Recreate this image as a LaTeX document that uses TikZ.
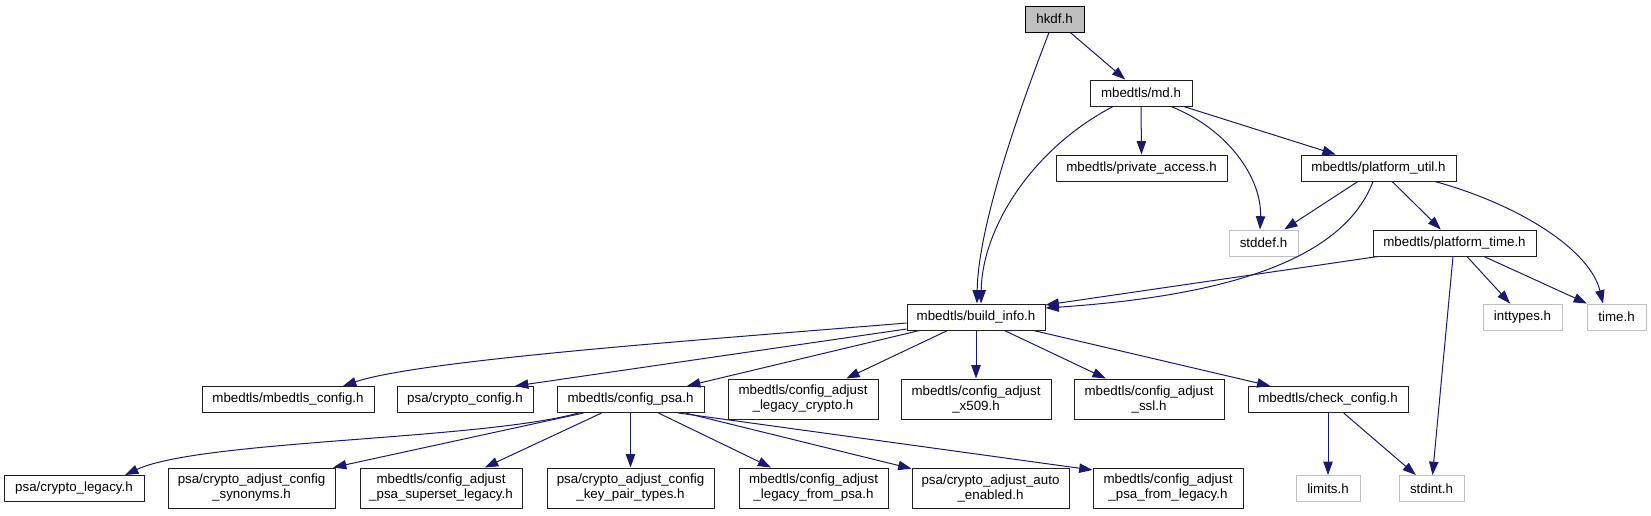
\documentclass[tikz,border=0pt]{standalone}
\usepackage{fontspec}
\setmainfont{Liberation Sans}
\usetikzlibrary{arrows.meta,calc}
\definecolor{bleunuit}{HTML}{191970}
\newcommand{\upx}{0.75pt}

\begin{document}
\begin{tikzpicture}[x=0.75pt, y=-0.75pt,
    fichier/.style={draw=gray!25!black, line width=0.75pt, inner sep=0pt,
        minimum height=26*\upx, align=center,
        font=\fontsize{10}{11.25}\selectfont},
    fichier2/.style={fichier, minimum height=40*\upx},
    externe/.style={fichier, draw=gray!50!white},
    racine/.style={fichier, draw=black, fill=gray!50!white},
    lien/.style={-{Triangle[length=10pt,width=7pt]}, draw=bleunuit, line width=0.75pt}]
            % Cadre
            \useasboundingbox (0,0) rectangle (1651,515);

            % Racine et premiers niveaux
            \node[racine, minimum width=59*\upx] (hkdf) at (1054.5,19) {hkdf.h};
            \node[fichier, minimum width=102*\upx] (md) at (1141,93) {mbedtls/md.h};
            \node[fichier, minimum width=171*\upx] (pa) at (1141.5,168) {mbedtls/private\_access.h};
            \node[fichier, minimum width=155*\upx] (pu) at (1378.5,168) {mbedtls/platform\_util.h};
            \node[externe, minimum width=69*\upx] (sd) at (1263.5,243) {stddef.h};
            \node[fichier, minimum width=163*\upx] (pt) at (1454.5,243) {mbedtls/platform\_time.h};

            % build_info et en-tetes systeme
            \node[fichier, minimum width=138*\upx] (bi) at (976,317) {mbedtls/build\_info.h};
            \node[externe, minimum width=79*\upx] (it) at (1522.5,317) {inttypes.h};
            \node[externe, minimum width=59*\upx] (tm) at (1616.5,317) {time.h};

            % Niveau de configuration
            \node[fichier, minimum width=172*\upx] (mc) at (288,399.5) {mbedtls/mbedtls\_config.h};
            \node[fichier, minimum width=136*\upx] (cc) at (465,399.5) {psa/crypto\_config.h};
            \node[fichier, minimum width=147*\upx] (cp) at (630.5,399.5) {mbedtls/config\_psa.h};
            \node[fichier2, minimum width=150*\upx] (lc) at (803,399) {mbedtls/config\_adjust\\\_legacy\_crypto.h};
            \node[fichier2, minimum width=150*\upx] (xc) at (976,399) {mbedtls/config\_adjust\\\_x509.h};
            \node[fichier2, minimum width=150*\upx] (sc) at (1149,399) {mbedtls/config\_adjust\\\_ssl.h};
            \node[fichier, minimum width=160*\upx] (ck) at (1328,399.5) {mbedtls/check\_config.h};

            % Dernier niveau
            \node[fichier, minimum width=140*\upx] (cl) at (74,488.5) {psa/crypto\_legacy.h};
            \node[fichier2, minimum width=167*\upx] (sy) at (251.5,488) {psa/crypto\_adjust\_config\\\_synonyms.h};
            \node[fichier2, minimum width=162*\upx] (ss) at (441,488) {mbedtls/config\_adjust\\\_psa\_superset\_legacy.h};
            \node[fichier2, minimum width=167*\upx] (kp) at (630.5,488) {psa/crypto\_adjust\_config\\\_key\_pair\_types.h};
            \node[fichier2, minimum width=149*\upx] (lf) at (813.5,488) {mbedtls/config\_adjust\\\_legacy\_from\_psa.h};
            \node[fichier2, minimum width=157*\upx] (ae) at (990.5,488) {psa/crypto\_adjust\_auto\\\_enabled.h};
            \node[fichier2, minimum width=150*\upx] (pf) at (1168,488) {mbedtls/config\_adjust\\\_psa\_from\_legacy.h};
            \node[externe, minimum width=64*\upx] (lm) at (1328,488.5) {limits.h};
            \node[externe, minimum width=65*\upx] (si) at (1431.5,488.5) {stdint.h};

            % Inclusions depuis hkdf.h et md.h
            \draw[lien] (hkdf) -- (md);
            \draw[lien] ($(hkdf.south)+(-5.5,0)$) .. controls (1015,120) and (978,230) .. ($(bi.north)+(1,0)$);
            \draw[lien] (md.south) -- (pa.north);
            \draw[lien] ($(md.south)+(-28,0)$) .. controls (1030,150) and (982,230) .. ($(bi.north)+(5,0)$);
            \draw[lien] ($(md.south)+(30,0)$) .. controls (1230,130) and (1262,180) .. ($(sd.north)+(-3.5,0)$);
            \draw[lien] (md) -- (pu);

            % Inclusions depuis platform_util.h et platform_time.h
            \draw[lien] (pu) -- (sd);
            \draw[lien] ($(pu.south)+(-5.5,0)$) .. controls (1345,255) and (1240,295) .. ($(bi.east)+(0,-9)$);
            \draw[lien] (pu) -- (pt);
            \draw[lien] ($(pu.south)+(56.5,0)$) .. controls (1520,205) and (1590,250) .. ($(tm.north)+(-13.5,0)$);
            \draw[lien] ($(pt.south)+(-76.5,0)$) -- ($(bi.east)+(0,-12)$);
            \draw[lien] ($(pt.south)+(-1.5,0)$) -- ($(si.north)+(1,0)$);
            \draw[lien] (pt) -- (it);
            \draw[lien] (pt) -- (tm);

            % Inclusions depuis build_info.h
            \draw[lien] ($(bi.west)+(0,6)$) .. controls (700,340) and (420,360) .. ($(mc.north)+(55,0)$);
            \draw[lien] ($(bi.west)+(0,12)$) -- ($(cc.north)+(50,0)$);
            \draw[lien] (bi) -- (cp);
            \draw[lien] (bi) -- (lc);
            \draw[lien] (bi) -- (xc);
            \draw[lien] (bi) -- (sc);
            \draw[lien] (bi) -- (ck);

            % Inclusions depuis config_psa.h
            \draw[lien] ($(cp.south)+(-52,0)$) .. controls (480,440) and (200,440) .. ($(cl.north)+(51,0)$);
            \draw[lien] ($(cp.south)+(-47,0)$) -- ($(sy.north)+(81.5,0)$);
            \draw[lien] (cp) -- (ss);
            \draw[lien] (cp) -- (kp);
            \draw[lien] (cp) -- (lf);
            \draw[lien] (cp) -- (ae);
            \draw[lien] ($(cp.south)+(48,0)$) -- ($(pf.west)+(0,-18)$);

            % Inclusions depuis check_config.h
            \draw[lien] (ck) -- (lm);
            \draw[lien] (ck) -- (si);
        \end{tikzpicture}
\end{document}
